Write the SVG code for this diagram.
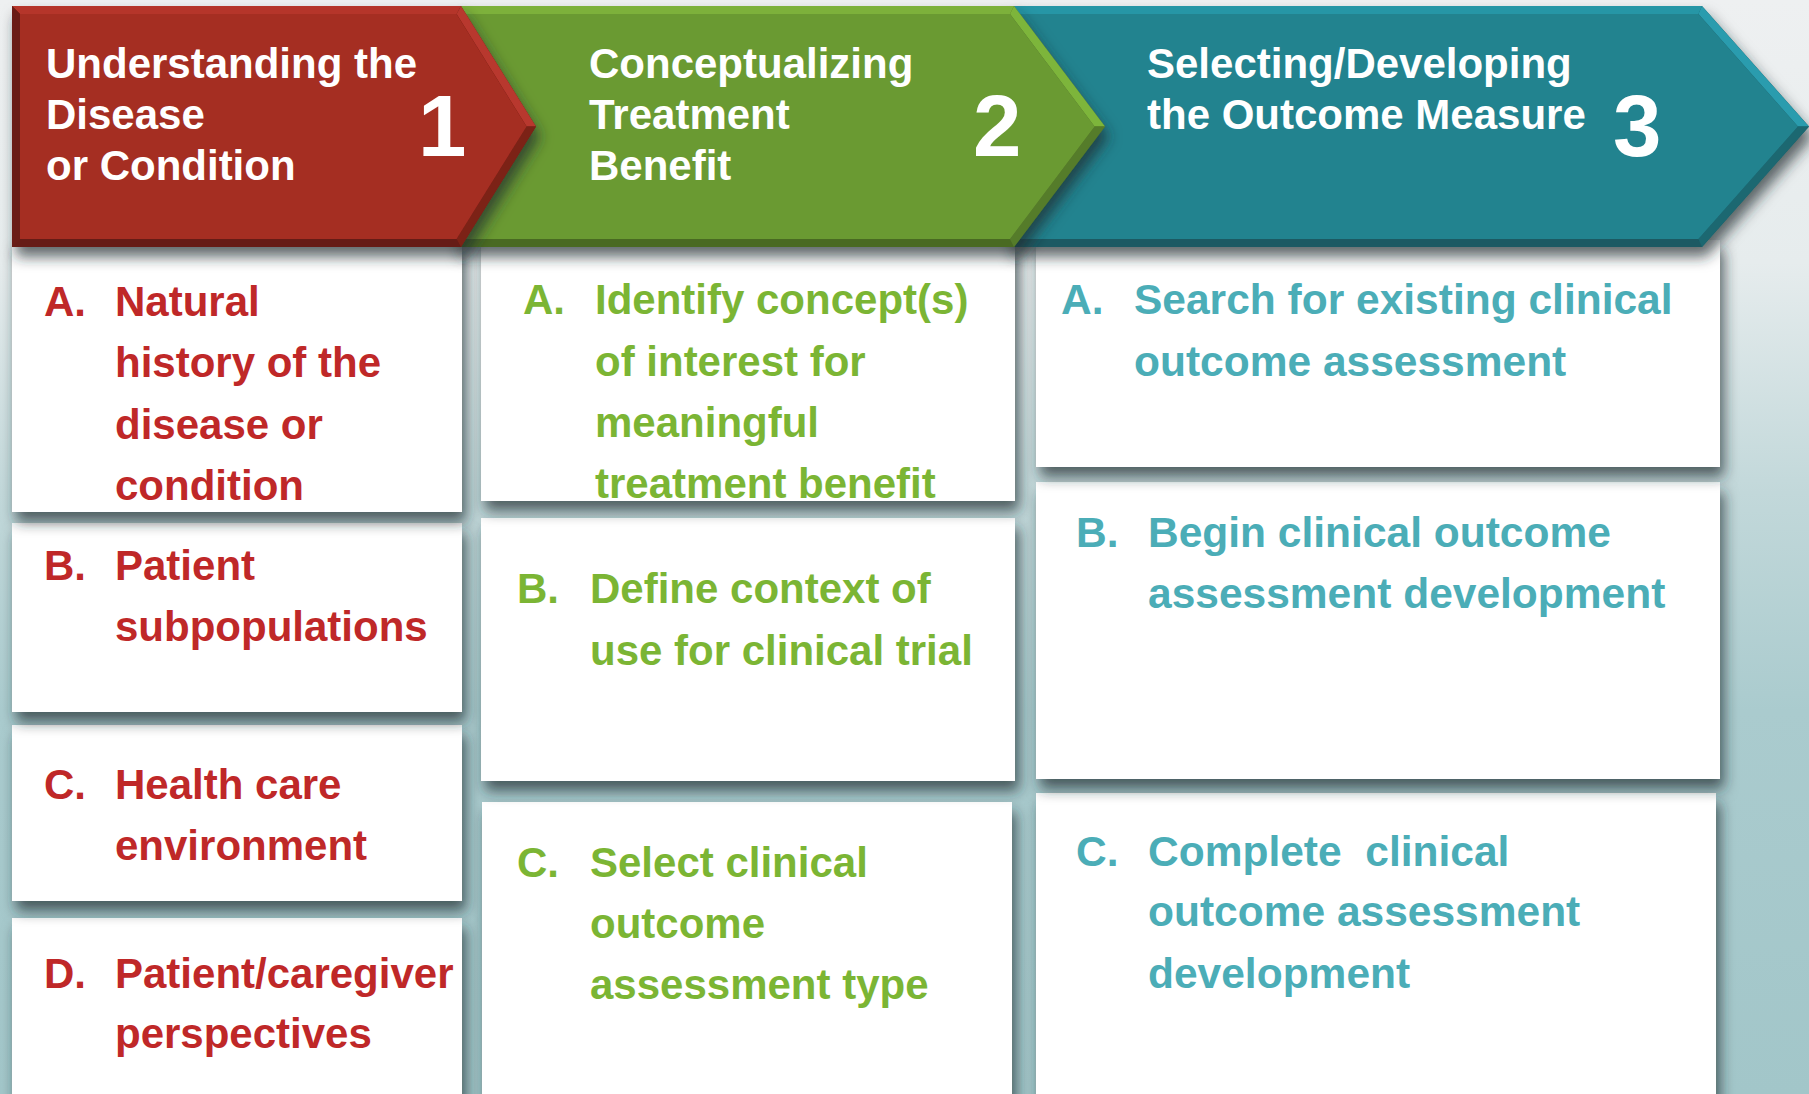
<svg xmlns="http://www.w3.org/2000/svg" width="1809" height="1094" viewBox="0 0 1809 1094">
<style>
  text { font-family: "Liberation Sans", Arial, sans-serif; font-weight: bold; }
  .hd { font-size: 42px; fill: #FFFFFF; }
  .num { font-size: 87px; fill: #FFFFFF; }
  .bx { fill: #FFFFFF; filter: url(#sh); }
  .t { font-size: 42px; }
  .t3 { font-size: 42.5px; }
  .red { fill: #BF2828; }
  .grn { fill: #7BB534; }
  .tea { fill: #4BADB7; }
</style>
<defs>
  <linearGradient id="bg" x1="0" y1="0" x2="0" y2="1">
    <stop offset="0" stop-color="#EEF0F1"/>
    <stop offset="0.24" stop-color="#E6ECED"/>
    <stop offset="0.45" stop-color="#C2D8DA"/>
    <stop offset="0.65" stop-color="#AACBCE"/>
    <stop offset="1" stop-color="#A2C6C9"/>
  </linearGradient>
  <filter id="sh" x="-6%" y="-10%" width="116%" height="135%">
    <feGaussianBlur in="SourceAlpha" stdDeviation="7"/>
    <feOffset dx="4" dy="10" result="b"/>
    <feFlood flood-color="#1E2A2E" flood-opacity="0.7"/>
    <feComposite in2="b" operator="in"/>
    <feMerge><feMergeNode/><feMergeNode in="SourceGraphic"/></feMerge>
  </filter>
</defs>

<rect x="0" y="0" width="1809" height="1094" fill="url(#bg)"/>

<!-- Column 3 boxes -->
<g id="box-3C"><rect class="bx" x="1036" y="793" width="680" height="330"/>
  <text class="t3 tea"><tspan x="1076" y="866">C.</tspan></text>
  <text class="t3 tea" xml:space="preserve"><tspan x="1148" y="866">Complete  clinical</tspan><tspan x="1148" y="926">outcome assessment</tspan><tspan x="1148" y="988">development</tspan></text>
</g>
<g id="box-3B"><rect class="bx" x="1036" y="482" width="684" height="297"/>
  <text class="t3 tea"><tspan x="1076" y="547">B.</tspan></text>
  <text class="t3 tea"><tspan x="1148" y="547">Begin clinical outcome</tspan><tspan x="1148" y="608">assessment development</tspan></text>
</g>
<g id="box-3A"><rect class="bx" x="1036" y="240" width="684" height="227"/>
  <text class="t3 tea"><tspan x="1061" y="314">A.</tspan></text>
  <text class="t3 tea"><tspan x="1134" y="314">Search for existing clinical</tspan><tspan x="1134" y="376">outcome assessment</tspan></text>
</g>

<!-- Column 2 boxes -->
<g id="box-2C"><rect class="bx" x="482" y="802" width="530" height="320"/>
  <text class="t grn"><tspan x="517" y="877">C.</tspan></text>
  <text class="t grn"><tspan x="590" y="877">Select clinical</tspan><tspan x="590" y="938">outcome</tspan><tspan x="590" y="999">assessment type</tspan></text>
</g>
<g id="box-2B"><rect class="bx" x="481" y="518" width="534" height="263"/>
  <text class="t grn"><tspan x="517" y="603">B.</tspan></text>
  <text class="t grn"><tspan x="590" y="603">Define context of</tspan><tspan x="590" y="665">use for clinical trial</tspan></text>
</g>
<g id="box-2A"><rect class="bx" x="481" y="240" width="534" height="261"/>
  <text class="t grn"><tspan x="523" y="314">A.</tspan></text>
  <text class="t grn"><tspan x="595" y="314">Identify concept(s)</tspan><tspan x="595" y="376">of interest for</tspan><tspan x="595" y="437">meaningful</tspan><tspan x="595" y="498">treatment benefit</tspan></text>
</g>

<!-- Column 1 boxes -->
<g id="box-1D"><rect class="bx" x="12" y="918" width="450" height="200"/>
  <text class="t red"><tspan x="44" y="988">D.</tspan></text>
  <text class="t red"><tspan x="115" y="988">Patient/caregiver</tspan><tspan x="115" y="1048">perspectives</tspan></text>
</g>
<g id="box-1C"><rect class="bx" x="12" y="725" width="450" height="176"/>
  <text class="t red"><tspan x="44" y="799">C.</tspan></text>
  <text class="t red"><tspan x="115" y="799">Health care</tspan><tspan x="115" y="860">environment</tspan></text>
</g>
<g id="box-1B"><rect class="bx" x="12" y="523" width="450" height="189"/>
  <text class="t red"><tspan x="44" y="580">B.</tspan></text>
  <text class="t red"><tspan x="115" y="580">Patient</tspan><tspan x="115" y="641">subpopulations</tspan></text>
</g>
<g id="box-1A"><rect class="bx" x="12" y="240" width="450" height="272"/>
  <text class="t red"><tspan x="44" y="316">A.</tspan></text>
  <text class="t red"><tspan x="115" y="316">Natural</tspan><tspan x="115" y="377">history of the</tspan><tspan x="115" y="439">disease or</tspan><tspan x="115" y="500">condition</tspan></text>
</g>

<!-- Step 3 chevron -->
<g id="step-3">
  <g filter="url(#sh)">
    <polygon points="1008,6 1702,6 1809,126.5 1702,247 1008,247" fill="#1A5A64"/>
    <polygon points="1008,6 1702,6 1698.4,14 1008,14" fill="#2896A6"/>
    <polygon points="1702,6 1809,126.5 1797.9,126.5 1698.4,14" fill="#2A9CAE"/>
    <polygon points="1809,126.5 1702,247 1698.4,239 1797.9,126.5" fill="#1D6771"/>
    <polygon points="1008,14 1698.4,14 1797.9,126.5 1698.4,239 1008,239" fill="#22838F"/>
  </g>
  <text class="hd"><tspan x="1147" y="78">Selecting/Developing</tspan><tspan x="1147" y="129">the Outcome Measure</tspan></text>
  <text class="num" x="1613" y="156">3</text>
</g>

<!-- Step 2 chevron -->
<g id="step-2">
  <g filter="url(#sh)">
    <polygon points="455,6 1014,6 1105,126.5 1014,247 455,247" fill="#4A6A24"/>
    <polygon points="455,6 1014,6 1010,14 455,14" fill="#7DB13A"/>
    <polygon points="1014,6 1105,126.5 1094.6,126.5 1010,14" fill="#7DB53B"/>
    <polygon points="1105,126.5 1014,247 1010,239 1094.6,126.5" fill="#557B2B"/>
    <polygon points="455,14 1010,14 1094.6,126.5 1010,239 455,239" fill="#6B9A33"/>
  </g>
  <text class="hd"><tspan x="589" y="78">Conceptualizing</tspan><tspan x="589" y="129">Treatment</tspan><tspan x="589" y="180">Benefit</tspan></text>
  <text class="num" x="973" y="156">2</text>
</g>

<!-- Step 1 chevron -->
<g id="step-1">
  <g filter="url(#sh)">
    <polygon points="12,6 461,6 536,126.5 461,247 12,247" fill="#661B14"/>
    <polygon points="12,6 461,6 456.6,14 20,14" fill="#B5362B"/>
    <polygon points="12,6 20,14 20,239 12,247" fill="#6A1C15"/>
    <polygon points="461,6 536,126.5 526.6,126.5 456.6,14" fill="#B8382D"/>
    <polygon points="536,126.5 461,247 456.6,239 526.6,126.5" fill="#7B2319"/>
    <polygon points="20,14 456.6,14 526.6,126.5 456.6,239 20,239" fill="#A52D22"/>
  </g>
  <text class="hd"><tspan x="46" y="78">Understanding the</tspan><tspan x="46" y="129">Disease</tspan><tspan x="46" y="180">or Condition</tspan></text>
  <text class="num" x="418" y="156">1</text>
</g>

<g id="connectors"/>
</svg>
